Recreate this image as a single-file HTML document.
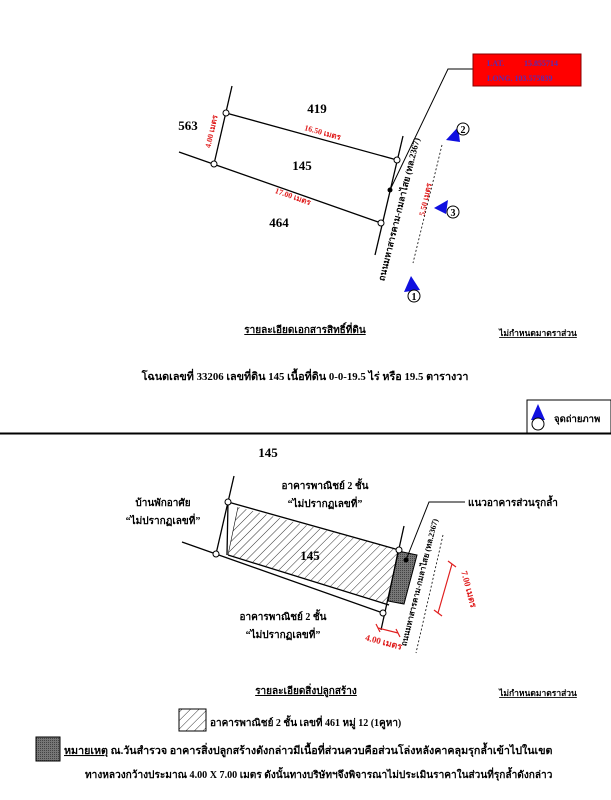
<!DOCTYPE html>
<html><head><meta charset="utf-8"><style>
html,body{margin:0;padding:0;background:#fff;}
svg{display:block;font-family:"Liberation Serif","Noto Serif CJK SC","Noto Sans CJK SC",serif;}
.b{font-weight:bold;}
</style></head><body>
<svg width="611" height="800" viewBox="0 0 611 800" xmlns="http://www.w3.org/2000/svg">
<defs>
<pattern id="h" width="6" height="6" patternUnits="userSpaceOnUse" patternTransform="rotate(45)">
<line x1="0" y1="0" x2="0" y2="6" stroke="#000" stroke-width="0.8"/>
</pattern>
<pattern id="g" width="2" height="2" patternUnits="userSpaceOnUse">
<rect width="2" height="2" fill="#777"/><rect width="1" height="1" fill="#444"/>
</pattern>
</defs>
<g stroke="#000" stroke-width="1.3" fill="none">
<line x1="232" y1="86" x2="214" y2="164"/>
<line x1="226" y1="113" x2="397" y2="160"/>
<line x1="179" y1="152" x2="381" y2="223"/>
<line x1="403" y1="136" x2="375" y2="255"/>
<polyline points="390,190 448,69 473,69" stroke-width="1"/>
<line x1="442" y1="145" x2="413" y2="263" stroke-dasharray="2,2" stroke-width="0.8"/>
</g>
<g fill="#fff" stroke="#000" stroke-width="1">
<circle cx="226" cy="113" r="3"/><circle cx="214" cy="164" r="3"/>
<circle cx="397" cy="160" r="3"/><circle cx="381" cy="223" r="3"/>
</g>
<circle cx="390" cy="190" r="2.5" fill="#000"/>
<rect x="473" y="54" width="108" height="32" fill="#f00" stroke="#800" stroke-width="1"/>
<text x="487" y="66" font-size="8" fill="#5a2ab0" class="b">LAT.</text>
<text x="524" y="66" font-size="8" fill="#5a2ab0" class="b">15.855714</text>
<text x="487" y="81" font-size="8" fill="#5a2ab0" class="b">LONG. 103.575839</text>
<polygon points="446,140 458,127 460,142" fill="#1010e0"/>
<circle cx="463" cy="129" r="6" fill="#fff" stroke="#000"/><text x="463" y="133" font-size="10" text-anchor="middle" class="b">2</text>
<polygon points="434,208 448,200 446,214" fill="#1010e0"/>
<circle cx="453" cy="212" r="6" fill="#fff" stroke="#000"/><text x="453" y="216" font-size="10" text-anchor="middle" class="b">3</text>
<polygon points="411,276 404,292 420,290" fill="#1010e0"/>
<circle cx="414" cy="296" r="6" fill="#fff" stroke="#000"/><text x="414" y="300" font-size="10" text-anchor="middle" class="b">1</text>
<g class="b" font-size="13">
<text x="317" y="113" text-anchor="middle">419</text>
<text x="188" y="130" text-anchor="middle">563</text>
<text x="302" y="170" text-anchor="middle">145</text>
<text x="279" y="227" text-anchor="middle">464</text>
</g>
<g fill="#e02020" font-size="8" class="b">
<text transform="translate(322,135) rotate(15.5)" text-anchor="middle">16.50 เมตร</text>
<text transform="translate(292,199) rotate(19.5)" text-anchor="middle">17.00 เมตร</text>
<text transform="translate(214,132) rotate(-77)" text-anchor="middle">4.00 เมตร</text>
<text transform="translate(428,200) rotate(-77)" text-anchor="middle">5.50 เมตร</text>
</g>
<text transform="translate(402,210) rotate(-76)" text-anchor="middle" font-size="9" class="b">ถนนมหาสารคาม-กมลาไสย (ทล.2367)</text>
<text x="305" y="333" font-size="10" class="b" text-anchor="middle" text-decoration="underline">รายละเอียดเอกสารสิทธิ์ที่ดิน</text>
<text x="538" y="336" font-size="8.5" class="b" text-anchor="middle" text-decoration="underline">ไม่กำหนดมาตราส่วน</text>
<text x="305" y="380" font-size="10.8" class="b" text-anchor="middle">โฉนดเลขที่ 33206 เลขที่ดิน 145 เนื้อที่ดิน 0-0-19.5 ไร่ หรือ 19.5 ตารางวา</text>
<rect x="527" y="400" width="84" height="33" fill="#fff" stroke="#000"/>
<polygon points="538,404 531,420 545,420" fill="#1010e0"/>
<circle cx="538" cy="424" r="6" fill="#fff" stroke="#000"/>
<text x="554" y="422" font-size="9.5" class="b">จุดถ่ายภาพ</text>
<line x1="0" y1="433.5" x2="611" y2="433.5" stroke="#000" stroke-width="2"/>
<text x="268" y="457" font-size="13" class="b" text-anchor="middle">145</text>
<polygon points="238,507 399,550 389,605 228,555" fill="url(#h)" stroke="none"/>
<polygon points="398,551 417,555 404,604 388,601" fill="url(#g)" stroke="#000" stroke-width="1"/>
<g stroke="#000" stroke-width="1.3" fill="none">
<line x1="234" y1="476" x2="216" y2="554"/>
<line x1="228" y1="502" x2="227" y2="555"/>
<line x1="228" y1="502" x2="399" y2="550"/>
<line x1="182" y1="542" x2="383" y2="613"/>
<line x1="228" y1="555" x2="389" y2="605"/>
<line x1="238" y1="507" x2="228" y2="555" stroke-width="0.6"/>
<line x1="404" y1="526" x2="381" y2="630"/>
<polyline points="406,560 429,502 465,502" stroke-width="1"/>
<line x1="443" y1="535" x2="416" y2="653" stroke-dasharray="2,2" stroke-width="0.8"/>
</g>
<g fill="#fff" stroke="#000" stroke-width="1">
<circle cx="228" cy="502" r="3"/><circle cx="216" cy="554" r="3"/>
<circle cx="399" cy="550" r="3"/><circle cx="383" cy="613" r="3"/>
</g>
<circle cx="406" cy="560" r="2.5" fill="#000"/>
<text x="468" y="506" font-size="10" class="b">แนวอาคารส่วนรุกล้ำ</text>
<g font-size="10" class="b" text-anchor="middle">
<text x="325" y="489">อาคารพาณิชย์ 2 ชั้น</text>
<text x="325" y="507">“ไม่ปรากฏเลขที่”</text>
<text x="163" y="506">บ้านพักอาศัย</text>
<text x="163" y="524">“ไม่ปรากฏเลขที่”</text>
<text x="283" y="620">อาคารพาณิชย์ 2 ชั้น</text>
<text x="283" y="638">“ไม่ปรากฏเลขที่”</text>
</g>
<text x="310" y="560" font-size="13" class="b" text-anchor="middle">145</text>
<text transform="translate(422,583) rotate(-76)" text-anchor="middle" font-size="8" class="b">ถนนมหาสารคาม-กมลาไสย (ทล.2367)</text>
<g stroke="#e02020" stroke-width="1.2">
<line x1="452" y1="564" x2="438" y2="613"/>
<line x1="448" y1="561" x2="456" y2="567"/><line x1="434" y1="610" x2="442" y2="616"/>
<line x1="378" y1="628" x2="398" y2="633"/>
<line x1="376" y1="624" x2="380" y2="632"/><line x1="396" y1="629" x2="400" y2="637"/>
</g>
<text transform="translate(466,590) rotate(75)" text-anchor="middle" font-size="9" fill="#e02020" class="b">7.00 เมตร</text>
<text transform="translate(383,645) rotate(15)" text-anchor="middle" font-size="9" fill="#e02020" class="b">4.00 เมตร</text>
<text x="306" y="694" font-size="10" class="b" text-anchor="middle" text-decoration="underline">รายละเอียดสิ่งปลูกสร้าง</text>
<text x="538" y="696" font-size="8.5" class="b" text-anchor="middle" text-decoration="underline">ไม่กำหนดมาตราส่วน</text>
<rect x="179" y="709" width="27" height="22" fill="url(#h)" stroke="#000"/>
<text x="210" y="726" font-size="10" class="b">อาคารพาณิชย์ 2 ชั้น เลขที่ 461 หมู่ 12 (1คูหา)</text>
<rect x="36" y="737" width="24" height="24" fill="url(#g)" stroke="#000"/>
<text x="64" y="754" font-size="10.7" class="b"><tspan text-decoration="underline">หมายเหตุ</tspan> ณ.วันสำรวจ อาคารสิ่งปลูกสร้างดังกล่าวมีเนื้อที่ส่วนควบคือส่วนโล่งหลังคาคลุมรุกล้ำเข้าไปในเขต</text>
<text x="85" y="778" font-size="10.1" class="b">ทางหลวงกว้างประมาณ 4.00  X 7.00 เมตร ดังนั้นทางบริษัทฯจึงพิจารณาไม่ประเมินราคาในส่วนที่รุกล้ำดังกล่าว</text>
</svg>
</body></html>
